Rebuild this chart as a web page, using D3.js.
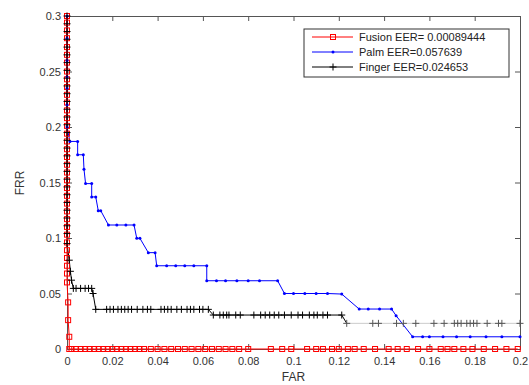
<!DOCTYPE html>
<html>
<head>
<meta charset="utf-8">
<script src="https://cdn.jsdelivr.net/npm/d3@7"></script>
<style>
  body { margin: 0; background: #fff; }
  text { font-family: "Liberation Sans", Arial, sans-serif; }
</style>
</head>
<body>
<svg id="chart" width="529" height="385"></svg>
<script>
// data (FAR, FRR)
var xTicks = [0, 0.02, 0.04, 0.06, 0.08, 0.1, 0.12, 0.14, 0.16, 0.18, 0.2];
var yTicks = [0, 0.05, 0.1, 0.15, 0.2, 0.25, 0.3];

var fusionFAR = [0, 0, 0, 0, 0, 0, 0, 0, 0, 0, 0, 0, 0, 0, 0, 0, 0, 0, 0, 0, 0, 0, 0, 0, 0, 0, 0, 0, 0, 0, 0, 0, 0, 0, 0,
  0.0005, 0.0005, 0.001, 0.001,
  0.002, 0.004, 0.006, 0.008, 0.010, 0.012, 0.014, 0.016, 0.018, 0.020, 0.022, 0.024, 0.026, 0.028, 0.030, 0.032,
  0.034, 0.037, 0.040, 0.043, 0.046, 0.049, 0.052, 0.055, 0.058, 0.061, 0.064, 0.067, 0.070, 0.073, 0.076, 0.080,
  0.090, 0.095, 0.099, 0.106, 0.110, 0.113, 0.117, 0.120, 0.124, 0.127, 0.131, 0.136, 0.142, 0.146, 0.150, 0.155,
  0.160, 0.165, 0.168, 0.171, 0.175, 0.179, 0.184, 0.189, 0.194, 0.199];
var fusionFRR = [0.3, 0.294, 0.287, 0.280, 0.272, 0.265, 0.258, 0.250, 0.243, 0.236, 0.229, 0.222, 0.215, 0.208, 0.201, 0.194, 0.187,
  0.180, 0.173, 0.166, 0.159, 0.152, 0.145, 0.138, 0.131, 0.124, 0.117, 0.110, 0.103, 0.096, 0.089, 0.082, 0.075, 0.068, 0.060,
  0.042, 0.026, 0.011, 0,
  0, 0, 0, 0, 0, 0, 0, 0, 0, 0, 0, 0, 0, 0, 0, 0,
  0, 0, 0, 0, 0, 0, 0, 0, 0, 0, 0, 0, 0, 0, 0, 0,
  0, 0, 0, 0, 0, 0, 0, 0, 0, 0, 0, 0, 0, 0, 0, 0,
  0, 0, 0, 0, 0, 0, 0, 0, 0, 0];

var palmFAR = [0, 0, 0, 0, 0, 0, 0, 0.0013, 0.0047, 0.0047, 0.0072, 0.0075, 0.0082, 0.0109, 0.0109, 0.0127, 0.0138, 0.0149,
  0.0183, 0.022, 0.026, 0.0296, 0.0308, 0.0322, 0.0359, 0.0389, 0.0396, 0.044, 0.048, 0.052, 0.056, 0.0617, 0.0617,
  0.066, 0.070, 0.075, 0.080, 0.085, 0.093, 0.096, 0.100, 0.105, 0.110, 0.115, 0.1213, 0.129, 0.133, 0.138, 0.1433,
  0.1453, 0.1526, 0.157, 0.160, 0.166, 0.172, 0.178, 0.185, 0.192, 0.2];
var palmFRR = [0.3, 0.28, 0.26, 0.245, 0.235, 0.22, 0.2, 0.187, 0.187, 0.175, 0.175, 0.162, 0.149, 0.149, 0.137, 0.137, 0.1246, 0.1246,
  0.1117, 0.1117, 0.1117, 0.1117, 0.0997, 0.0997, 0.0868, 0.0868, 0.075, 0.075, 0.075, 0.075, 0.075, 0.075, 0.0615,
  0.0615, 0.0615, 0.0615, 0.0615, 0.0615, 0.0615, 0.050, 0.050, 0.050, 0.050, 0.050, 0.0495, 0.036, 0.036, 0.036, 0.036,
  0.030, 0.011, 0.011, 0.011, 0.011, 0.011, 0.011, 0.011, 0.011, 0.011];

var fingerFAR = [0, 0, 0, 0, 0, 0, 0, 0, 0, 0, 0, 0, 0, 0, 0, 0, 0, 0, 0, 0, 0, 0, 0, 0, 0, 0, 0, 0, 0, 0,
  0.001, 0.0015, 0.002, 0.0028, 0.004, 0.006, 0.008, 0.0095, 0.0109, 0.0115, 0.0127,
  0.0175, 0.019, 0.0205, 0.0225, 0.024, 0.0255, 0.027, 0.0285, 0.031, 0.0335, 0.0355, 0.037, 0.0415, 0.043, 0.0445,
  0.046, 0.0485, 0.0505, 0.053, 0.0545, 0.056, 0.0585, 0.060, 0.0624,
  0.0646, 0.0675, 0.069, 0.0705, 0.0715, 0.0745, 0.0765, 0.0825, 0.0855, 0.0875, 0.0895, 0.0915, 0.0935, 0.096, 0.099,
  0.102, 0.104, 0.107, 0.109, 0.1105, 0.113, 0.115, 0.1213,
  0.1235, 0.135, 0.1375, 0.1455, 0.1485, 0.154, 0.162, 0.1665, 0.171, 0.1725, 0.174, 0.1765, 0.178, 0.1795, 0.181,
  0.1855, 0.1905, 0.192, 0.2];
var fingerFRR = [0.3, 0.293, 0.286, 0.279, 0.272, 0.265, 0.258, 0.251, 0.244, 0.237, 0.23, 0.223, 0.216, 0.209, 0.202, 0.195,
  0.188, 0.181, 0.174, 0.167, 0.16, 0.153, 0.146, 0.139, 0.132, 0.125, 0.118, 0.111, 0.104, 0.095,
  0.08, 0.07, 0.062, 0.0546, 0.0546, 0.0546, 0.0546, 0.0546, 0.0546, 0.05, 0.0357,
  0.0357, 0.0357, 0.0357, 0.0357, 0.0357, 0.0357, 0.0357, 0.0357, 0.0357, 0.0357, 0.0357, 0.0357, 0.0357, 0.0357, 0.0357,
  0.0357, 0.0357, 0.0357, 0.0357, 0.0357, 0.0357, 0.0357, 0.0357, 0.0357,
  0.0306, 0.0306, 0.0306, 0.0306, 0.0306, 0.0306, 0.0306, 0.0306, 0.0306, 0.0306, 0.0306, 0.0306, 0.0306, 0.0306, 0.0306,
  0.0306, 0.0306, 0.0306, 0.0306, 0.0306, 0.0306, 0.0306, 0.0306,
  0.0231, 0.0231, 0.0231, 0.0231, 0.0231, 0.0231, 0.0231, 0.0231, 0.0231, 0.0231, 0.0231, 0.0231, 0.0231, 0.0231, 0.0231,
  0.0231, 0.0231, 0.0231, 0.0231];

var legendLabels = ["Fusion EER= 0.00089444", "Palm EER=0.057639", "Finger EER=0.024653"];

var margin = {top: 16, right: 9, bottom: 36, left: 67};
var width = 529 - margin.left - margin.right;
var height = 385 - margin.top - margin.bottom;

var svg = d3.select("#chart");
var chartGroup = svg.append("g")
  .attr("transform", `translate(${margin.left}, ${margin.top})`);

var xScale = d3.scaleLinear().domain([0, 0.2]).range([0, width]);
var yScale = d3.scaleLinear().domain([0, 0.3]).range([height, 0]);

var fmt = d => d === 0 ? "0" : String(+d.toFixed(2));

function zip(xs, ys) {
  return xs.map((x, i) => ({x: x, y: ys[i]}));
}

var fusion = zip(fusionFAR, fusionFRR);
var palm = zip(palmFAR, palmFRR);
var finger = zip(fingerFAR, fingerFRR);

// axes (matlab style: ticks inside, on all four sides)
var bottomAxis = d3.axisBottom(xScale).tickValues(xTicks).tickSize(-5).tickPadding(8).tickFormat(fmt);
var leftAxis = d3.axisLeft(yScale).tickValues(yTicks).tickSize(-5).tickPadding(6).tickFormat(fmt);
var topAxis = d3.axisTop(xScale).tickValues(xTicks).tickSize(-5).tickFormat("");
var rightAxis = d3.axisRight(yScale).tickValues(yTicks).tickSize(-5).tickFormat("");

chartGroup.append("g").attr("transform", `translate(0, ${height})`).call(bottomAxis);
chartGroup.append("g").call(leftAxis);
chartGroup.append("g").call(topAxis);
chartGroup.append("g").attr("transform", `translate(${width}, 0)`).call(rightAxis);

chartGroup.selectAll(".domain").attr("stroke", "#555");
chartGroup.selectAll(".tick line").attr("stroke", "#555");
chartGroup.selectAll(".tick text")
  .attr("font-size", 11)
  .attr("fill", "#333")
  .attr("font-family", "Liberation Sans, Arial, sans-serif");

var line = d3.line().x(d => xScale(d.x)).y(d => yScale(d.y));

// lines
chartGroup.append("path").datum(palm)
  .attr("fill", "none").attr("stroke", "#0000ff").attr("stroke-width", 1).attr("d", line);

chartGroup.append("path").datum(finger.filter(d => d.x <= 0.1235))
  .attr("fill", "none").attr("stroke", "#000").attr("stroke-width", 1).attr("d", line);
chartGroup.append("path").datum(finger.filter(d => d.x >= 0.1235 && d.y < 0.025))
  .attr("fill", "none").attr("stroke", "#ccc").attr("stroke-width", 1).attr("d", line);

chartGroup.append("path").datum(fusion)
  .attr("fill", "none").attr("stroke", "#ff0000").attr("stroke-width", 1).attr("d", line);

// markers
chartGroup.selectAll(".fusion-mark")
  .data(fusion)
  .enter()
  .append("rect")
  .attr("class", "fusion-mark")
  .attr("x", d => xScale(d.x) - 2.5)
  .attr("y", d => yScale(d.y) - 2.5)
  .attr("width", 5)
  .attr("height", 5)
  .attr("fill", "none")
  .attr("stroke", "#ff0000")
  .attr("stroke-width", 1);

chartGroup.selectAll(".palm-mark")
  .data(palm)
  .enter()
  .append("circle")
  .attr("class", "palm-mark")
  .attr("cx", d => xScale(d.x))
  .attr("cy", d => yScale(d.y))
  .attr("r", 1.5)
  .attr("fill", "#0000ff");

var plus = d3.symbol().type(d3.symbolCross).size(0);
chartGroup.selectAll(".finger-mark")
  .data(finger)
  .enter()
  .append("path")
  .attr("class", "finger-mark")
  .attr("transform", d => `translate(${xScale(d.x)}, ${yScale(d.y)})`)
  .attr("d", "M-3.5,0H3.5M0,-3.5V3.5")
  .attr("stroke", d => d.y < 0.025 ? "#555" : "#000")
  .attr("stroke-width", 1);

// axis labels
svg.append("text")
  .attr("x", margin.left + width / 2)
  .attr("y", 381)
  .attr("text-anchor", "middle")
  .attr("font-size", 12)
  .attr("fill", "#333")
  .text("FAR");

svg.append("text")
  .attr("transform", "rotate(-90)")
  .attr("x", -183)
  .attr("y", 24)
  .attr("text-anchor", "middle")
  .attr("font-size", 12)
  .attr("fill", "#333")
  .text("FRR");

// legend
var legend = svg.append("g").attr("transform", "translate(304, 29)");
legend.append("rect")
  .attr("width", 205)
  .attr("height", 48)
  .attr("fill", "#fff")
  .attr("stroke", "#333")
  .attr("stroke-width", 1);

var legendColors = ["#ff0000", "#0000ff", "#000"];
legendLabels.forEach(function(label, i) {
  var yy = 8 + i * 15;
  legend.append("line")
    .attr("x1", 8).attr("x2", 49)
    .attr("y1", yy).attr("y2", yy)
    .attr("stroke", legendColors[i]);
  if (i === 0) {
    legend.append("rect").attr("x", 26.5).attr("y", yy - 2.5).attr("width", 5).attr("height", 5)
      .attr("fill", "none").attr("stroke", "#ff0000");
  } else if (i === 1) {
    legend.append("circle").attr("cx", 29).attr("cy", yy).attr("r", 1.5).attr("fill", "#0000ff");
  } else {
    legend.append("path").attr("transform", `translate(29, ${yy})`)
      .attr("d", "M-3.5,0H3.5M0,-3.5V3.5").attr("stroke", "#000");
  }
  legend.append("text")
    .attr("x", 55)
    .attr("y", yy + 4)
    .attr("font-size", 11)
    .attr("fill", "#222")
    .text(label);
});
</script>
</body>
</html>
